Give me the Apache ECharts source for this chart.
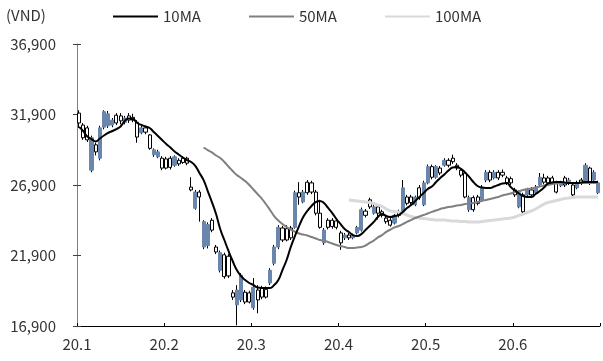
<!DOCTYPE html>
<html>
<head>
<meta charset="utf-8">
<script src="https://cdn.jsdelivr.net/npm/echarts@6/dist/echarts.min.js"></script>
<style>
    html, body { margin: 0; padding: 0; background: #fff; }
    #chart { width: 603px; height: 361px; }
</style>
</head>
<body>
<div id="chart"></div>
<script>
// 월 라벨 (한 달 = 21 거래일로 표시)
var monthLabels = ['20.1', '20.2', '20.3', '20.4', '20.5', '20.6'];
var daysPerMonth = 21;

// 일봉 (VND)
var openPrice = [
    32000, 31150, 30950, 27950, 29750, 28800, 31000, 31100, 31150, 31850,
    31800, 31350, 31800, 31700, 31350, 30600, 30950, 30450, 29050, 28900,
    28800, 28750, 28800, 28300, 28650, 28800, 28800, 26750, 25250, 26400,
    22500, 22600, 24400, 22500, 20850, 21950, 21850, 19250, 18400, 18750,
    19300, 19250, 18200, 19450, 19600, 19500, 19950, 21350, 22500, 23850,
    23800, 23850, 23900, 26350, 25700, 27100, 27050, 26400, 24900, 22800,
    24400, 24400, 24350, 23500, 23150, 23350, 23150, 23500, 23700, 25050,
    25850, 24900, 25350, 25000, 24550, 24400, 24200, 25000, 25000, 26050,
    26050, 25500, 26700, 25500, 27050, 28200, 27450, 28100, 28300, 28650,
    28800, 28300, 27950, 27750, 25150, 26000, 26050, 25850, 27250, 27800,
    27400, 27800, 27800, 27400, 27350, 26550, 25350, 26200, 26200, 26550,
    26350, 26900, 27400, 27400, 27400, 27050, 26850, 27400, 27050, 26900,
    26700, 27250, 27100, 28100, 27250, 26350
];
var closePrice = [
    31300, 30250, 30100, 30250, 29250, 30950, 32100, 31950, 31500, 31300,
    31450, 31650, 31500, 31500, 30300, 30950, 30650, 29500, 29400, 29250,
    28100, 28100, 28150, 28900, 28400, 28500, 28450, 26550, 26400, 26050,
    24300, 24100, 23700, 22150, 22100, 20400, 20450, 18950, 19450, 20500,
    18600, 18600, 19650, 18750, 18950, 18950, 20850, 22500, 23900, 23000,
    23000, 23150, 26350, 26050, 26400, 26350, 26400, 24900, 23900, 23700,
    23900, 23950, 23900, 22800, 23350, 23150, 23350, 23900, 25150, 24750,
    25350, 25350, 24900, 24750, 24300, 24050, 24750, 24750, 26700, 25600,
    25650, 26050, 26000, 27050, 28200, 27450, 28200, 27750, 28650, 28300,
    28550, 28100, 27600, 26050, 26000, 25150, 25600, 26750, 27800, 27250,
    27800, 27400, 27600, 27050, 27050, 26200, 26350, 25000, 26550, 26200,
    26750, 27450, 27100, 27050, 27050, 26400, 27050, 26900, 27250, 26200,
    27050, 27050, 28300, 27050, 27800, 27050
];
var lowPrice = [
    30950, 30100, 29950, 27800, 29000, 28650, 30850, 30950, 31000, 31150,
    31200, 31200, 31300, 31350, 29900, 30500, 30500, 29400, 28900, 28800,
    27950, 28000, 28000, 28200, 28250, 28400, 28300, 26450, 25150, 24300,
    22350, 22400, 23550, 22000, 20700, 20250, 20300, 18750, 16950, 18600,
    18450, 18500, 18050, 17800, 18800, 18850, 19800, 21200, 22350, 22850,
    22900, 23000, 23800, 25500, 25600, 26200, 26250, 24750, 23800, 22650,
    23750, 23800, 23750, 22300, 23000, 23000, 23050, 23400, 23600, 24600,
    25200, 24800, 24450, 24600, 24150, 23950, 24100, 24600, 24900, 25450,
    25500, 25400, 25850, 25400, 26950, 27300, 27350, 27600, 28200, 28150,
    28400, 27950, 27450, 25950, 25000, 25000, 25450, 25750, 27100, 27100,
    27300, 27250, 27450, 26900, 26900, 26050, 25250, 24750, 26050, 26050,
    26200, 26750, 26950, 26900, 26900, 26300, 26750, 26750, 26900, 26050,
    26600, 26900, 27000, 26900, 27100, 26250
];
var highPrice = [
    32200, 31300, 31100, 30400, 29900, 31100, 32200, 32150, 31650, 32000,
    32000, 31800, 32000, 31950, 31500, 31100, 31100, 30500, 29500, 29400,
    28950, 28900, 28950, 29000, 28800, 28950, 28900, 27450, 26550, 26550,
    24400, 24250, 24550, 22650, 22250, 22100, 22000, 19450, 19800, 20650,
    19450, 19400, 20300, 19800, 19750, 19700, 21000, 22650, 24050, 24000,
    24050, 24000, 26500, 27100, 26550, 27250, 27200, 26550, 25850, 23850,
    24550, 24550, 24500, 23650, 23500, 23500, 23450, 24000, 25300, 25200,
    26000, 25500, 25500, 25150, 24700, 24550, 24850, 25150, 27250, 26200,
    26200, 26150, 26900, 27200, 28350, 28350, 28300, 28250, 28800, 28800,
    29050, 28450, 28100, 27900, 26150, 26150, 26200, 26900, 27950, 27950,
    27950, 27950, 28000, 27550, 27500, 26700, 26500, 26350, 26700, 26750,
    26900, 27750, 27700, 27550, 27550, 27200, 27200, 27550, 27400, 27050,
    27200, 27400, 28450, 28200, 27950, 27200
];

// 이동평균선
var ma10 = [
    31010, 30730, 30340, 30160, 29990, 30200, 30410, 30590, 30730, 30870,
    31050, 31440, 31620, 31580, 31300, 31160, 31050, 30940, 30660, 30380,
    30090, 29810, 29560, 29280, 29060, 28850, 28670, 28530, 28250, 27750,
    27250, 26470, 25690, 24840, 23780, 23000, 22220, 21510, 20870, 20450,
    20160, 19950, 19810, 19630, 19600, 19600, 19600, 19810, 20160, 20870,
    21580, 22500, 23280, 23990, 24630, 25060, 25410, 25690, 25770, 25620,
    25270, 24910, 24490, 24130, 23780, 23570, 23350, 23280, 23420, 23710,
    23990, 24280, 24630, 24840, 24700, 24630, 24700, 24770, 24990, 25270,
    25480, 25770, 26050, 26330, 26620, 26790, 27110, 27400, 27650, 27930,
    28140, 28180, 28040, 27790, 27470, 27110, 26830, 26720, 26690, 26690,
    26790, 26900, 27010, 27040, 26760, 26510, 26300, 26120, 26050, 26050,
    26260, 26470, 26720, 27010, 27080, 27110, 27110, 27080, 27040, 27040,
    27040, 27080, 27110, 27110, 27110, 27110
];
var ma50 = [
    null, null, null, null, null, null, null, null, null, null,
    null, null, null, null, null, null, null, null, null, null,
    null, null, null, null, null, null, null, null, null, null,
    29560, 29380, 29210, 28990, 28820, 28530, 28210, 27890, 27610, 27400,
    27180, 26900, 26580, 26260, 25940, 25550, 25130, 24700, 24380, 24130,
    23920, 23740, 23600, 23460, 23390, 23320, 23210, 23110, 23000, 22930,
    22860, 22750, 22650, 22570, 22500, 22430, 22430, 22470, 22500, 22610,
    22790, 22960, 23180, 23350, 23570, 23740, 23890, 23990, 24130, 24280,
    24420, 24560, 24670, 24770, 24880, 24990, 25090, 25200, 25270, 25340,
    25380, 25450, 25480, 25550, 25590, 25620, 25690, 25770, 25840, 25910,
    25980, 26050, 26160, 26230, 26300, 26400, 26470, 26540, 26620, 26650,
    26720, 26790, 26860, 26900, 26970, 27010, 27040, 27040, 27040, 27040,
    27040, 27040, 27040, 27040, 27040, 27040
];
var ma100 = [
    null, null, null, null, null, null, null, null, null, null,
    null, null, null, null, null, null, null, null, null, null,
    null, null, null, null, null, null, null, null, null, null,
    null, null, null, null, null, null, null, null, null, null,
    null, null, null, null, null, null, null, null, null, null,
    null, null, null, null, null, null, null, null, null, null,
    null, null, null, null, null, 25840, 25800, 25770, 25730, 25690,
    25660, 25590, 25480, 25380, 25200, 25060, 25020, 24990, 24880, 24770,
    24670, 24600, 24560, 24520, 24490, 24450, 24420, 24420, 24420, 24380,
    24350, 24350, 24310, 24310, 24280, 24280, 24280, 24310, 24350, 24380,
    24420, 24450, 24490, 24520, 24560, 24630, 24740, 24840, 24950, 25060,
    25200, 25380, 25550, 25660, 25730, 25800, 25870, 25940, 25980, 26010,
    26050, 26050, 26050, 26050, 26050, 26050
];

var fontFamily = '"Noto Sans CJK KR", "Noto Sans", sans-serif';
var upColor = '#6a86ad';

// 카테고리 (거래일 순번)
var categories = [];
for (var i = 0; i < openPrice.length; i++) {
    categories.push(monthLabels[Math.floor(i / daysPerMonth)] + '-' + (i % daysPerMonth + 1));
}

// 고가-저가 선(몸통 없이 꼬리만) / 시가-종가 몸통
var hlData = [];
var bodyData = [];
for (var j = 0; j < openPrice.length; j++) {
    hlData.push([lowPrice[j], lowPrice[j], lowPrice[j], highPrice[j]]);
    bodyData.push([openPrice[j], closePrice[j],
        Math.min(openPrice[j], closePrice[j]), Math.max(openPrice[j], closePrice[j])]);
}

function commaFmt(v) {
    return String(v).replace(/\B(?=(\d{3})+(?!\d))/g, ',');
}

var chart = echarts.init(document.getElementById('chart'));
var option = {
    animation: false,
    backgroundColor: '#fff',
    textStyle: { fontFamily: fontFamily },
    title: {
        text: '(VND)',
        left: 6, top: 8, padding: 0,
        textStyle: { fontSize: 15, fontWeight: 'normal', color: '#333', fontFamily: fontFamily }
    },
    legend: {
        left: 113, top: 9, padding: 0,
        itemWidth: 45, itemHeight: 2, itemGap: 48,
        textStyle: { fontSize: 15, color: '#333', fontFamily: fontFamily },
        data: [
            { name: '10MA', icon: 'rect' },
            { name: '50MA', icon: 'rect' },
            { name: '100MA', icon: 'rect' }
        ]
    },
    grid: { left: 77, right: 0, top: 44, bottom: 35 },
    xAxis: [{
        type: 'category',
        data: categories,
        boundaryGap: true,
        axisLine: { show: false },
        axisTick: { show: false },
        axisLabel: { show: false },
        splitLine: { show: false }
    }, {
        type: 'value',
        position: 'bottom',
        min: 0, max: openPrice.length,
        interval: daysPerMonth,
        axisLine: { show: true, lineStyle: { color: '#000', width: 1 } },
        axisTick: { show: true, inside: true, length: 3, lineStyle: { color: '#000' } },
        axisLabel: {
            margin: 11, fontSize: 15, color: '#333', fontFamily: fontFamily,
            formatter: function (v) { return monthLabels[v / daysPerMonth] || ''; }
        },
        splitLine: { show: false }
    }],
    yAxis: [{
        type: 'value',
        position: 'left',
        min: 16900, max: 36900, interval: 5000,
        axisLine: { show: true, lineStyle: { color: '#808080', width: 1 } },
        axisTick: { show: true, length: 4, lineStyle: { color: '#404040' } },
        axisLabel: { margin: 21, fontSize: 15, color: '#333', fontFamily: fontFamily, formatter: commaFmt },
        splitLine: { show: false }
    }, {
        type: 'value',
        position: 'left',
        min: 16900, max: 36900, interval: 5000,
        axisLine: { show: false },
        axisTick: { show: true, inside: true, length: 4, lineStyle: { color: '#404040' } },
        axisLabel: { show: false },
        splitLine: { show: false }
    }],
    series: [{
        name: 'hl',
        type: 'candlestick',
        data: hlData,
        barWidth: 1,
        itemStyle: { color: '#000', color0: '#000', borderColor: '#000', borderColor0: '#000', borderWidth: 1 },
        z: 2
    }, {
        name: 'body',
        type: 'candlestick',
        data: bodyData,
        barWidth: 3.6,
        itemStyle: { color: upColor, color0: '#fff', borderColor: upColor, borderColor0: '#000', borderWidth: 1 },
        z: 3
    }, {
        name: '100MA',
        type: 'line',
        data: ma100,
        symbol: 'none',
        smooth: true,
        lineStyle: { color: '#d9d9d9', width: 3 },
        itemStyle: { color: '#d9d9d9' },
        z: 4
    }, {
        name: '50MA',
        type: 'line',
        data: ma50,
        symbol: 'none',
        smooth: true,
        lineStyle: { color: '#808080', width: 2 },
        itemStyle: { color: '#808080' },
        z: 5
    }, {
        name: '10MA',
        type: 'line',
        data: ma10,
        symbol: 'none',
        smooth: true,
        lineStyle: { color: '#000', width: 2 },
        itemStyle: { color: '#000' },
        z: 6
    }]
};
chart.setOption(option);
</script>
</body>
</html>
